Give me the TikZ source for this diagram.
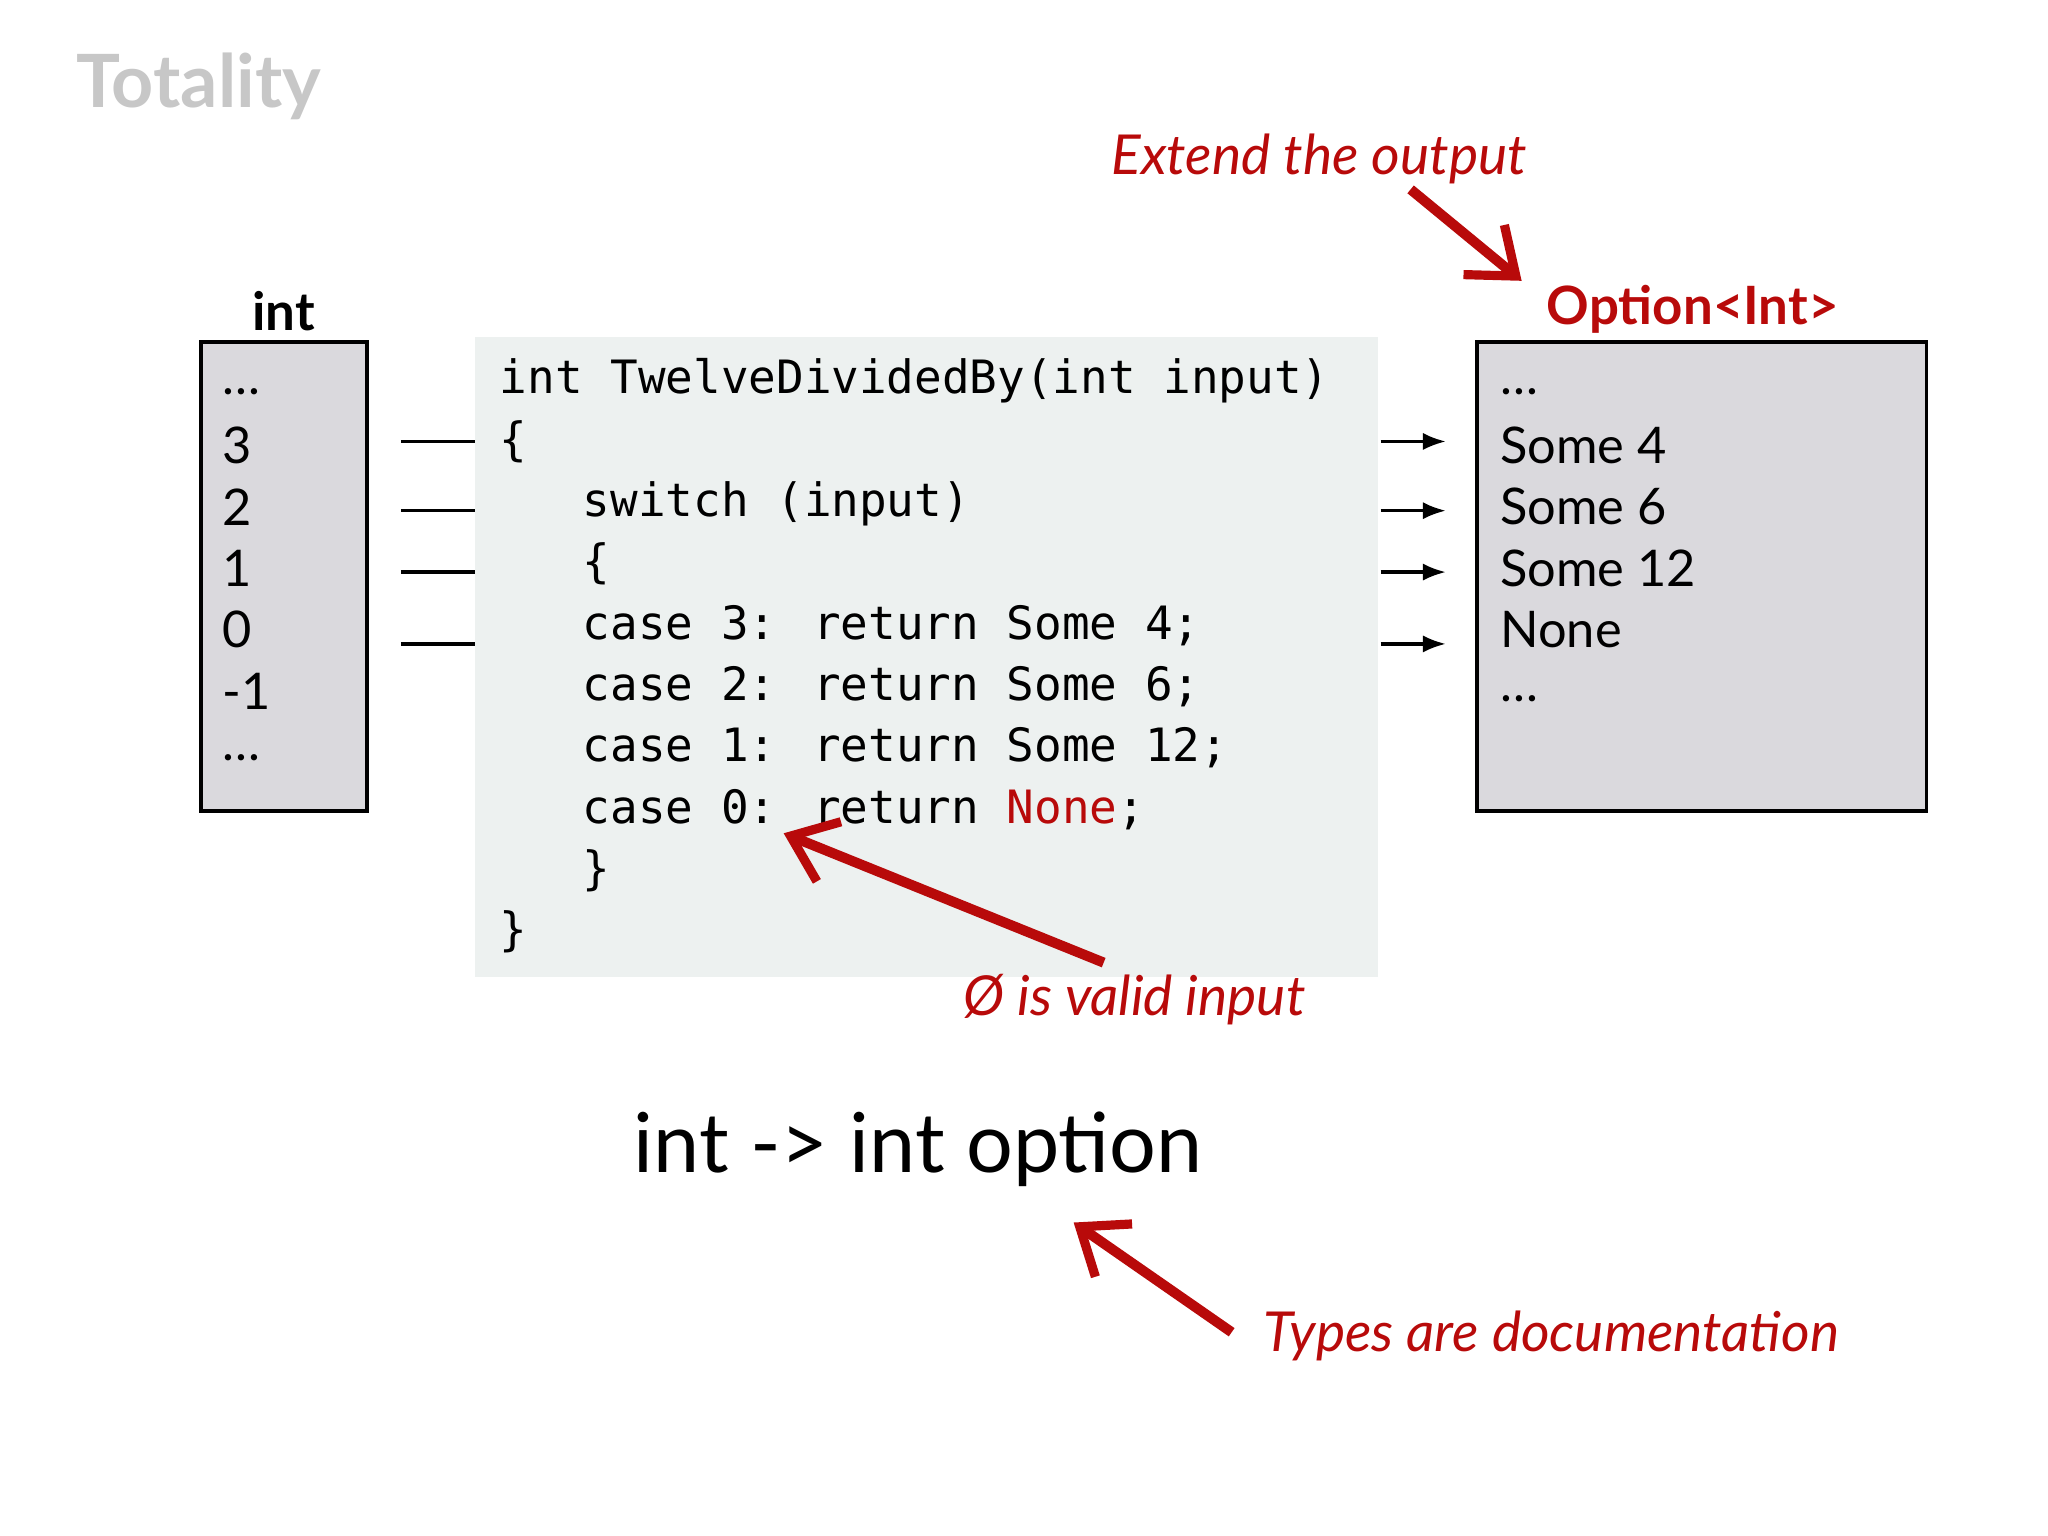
\documentclass[tikz,border=0pt]{standalone}
\usepackage{fontspec}
\setmainfont{Lato}
\newfontfamily\codefont{DejaVu Sans Mono}
\usetikzlibrary{arrows.meta}
\definecolor{hand}{HTML}{B80A0A}
\definecolor{boxgray}{HTML}{DAD9DD}
\definecolor{codebg}{HTML}{EDF1F0}
\tikzset{
  valbox/.style={draw=black, fill=boxgray, line width=0.8pt},
  item/.style={anchor=west, font=\fontsize{11}{13}\selectfont, inner sep=0pt},
  note/.style={text=hand, font=\itshape\fontsize{12}{14}\selectfont, inner sep=0pt},
  notearrow/.style={draw=hand, line width=2.2pt, -{Straight Barb[length=9pt,width=14pt,line width=2pt]}},
  maparrow/.style={line width=0.7pt, -{Latex[length=5pt]}},
  mapline/.style={line width=0.7pt}
}
\begin{document}
\begin{tikzpicture}[x=0.01cm,y=-0.01cm]
\useasboundingbox (0,0) rectangle (1568,1176);
\node[anchor=west, text=black!22, font=\bfseries\fontsize{16}{18}\selectfont, inner sep=0pt] (title) at (58,66) {Totality};
% left box
\draw[valbox] (154,262) rectangle (281,621);
\node[font=\bfseries\fontsize{11.5}{13}\selectfont] (intlbl) at (217,238) {int};
\foreach \t/\y [count=\i] in {\dots/300,3/341,2/388,1/435,0/482,-1/529,\dots/580}
  \node[item] (l\i) at (170,\y) {\t};
% code box
\fill[codebg] (364,258) rectangle (1055,748);
\node[anchor=north west, align=left, inner sep=0pt, font=\codefont\fontsize{10}{13.35}\selectfont] (code) at (382,274) {%
int TwelveDividedBy(int input)\\
\{\\
\ \ \ switch (input)\\
\ \ \ \{\\
\ \ \ case 3: return Some 4;\\
\ \ \ case 2: return Some 6;\\
\ \ \ case 1: return Some 12;\\
\ \ \ case 0: return \textcolor{hand}{None};\\
\ \ \ \}\\
\}};
% right box
\draw[valbox] (1131,262) rectangle (1475,621);
\node[text=hand, font=\bfseries\fontsize{11.5}{13}\selectfont] (optlbl) at (1296,237) {Option<Int>};
\foreach \t/\y [count=\i] in {\dots/300,Some 4/341,Some 6/388,Some 12/435,None/482,\dots/535}
  \node[item] (r\i) at (1148,\y) {\t};
% mapping lines
\foreach \y [count=\i] in {338,391,438,493}{
  \coordinate (la\i) at (307,\y); \coordinate (lb\i) at (364,\y);
  \draw[mapline] (la\i) -- (lb\i);
  \coordinate (ra\i) at (1057,\y); \coordinate (rb\i) at (1107,\y);
  \draw[maparrow] (ra\i) -- (rb\i);
}
% notes
\node[note] (n1) at (1010,122) {Extend the output};
\coordinate (n1t) at (1165,215);
\draw[notearrow] (1080,145) -- (n1t);
\node[note, anchor=west] (n2) at (737,765) {\O{} is valid input};
\coordinate (n2t) at (600,638);
\draw[notearrow] (845,737) -- (n2t);
\node[font=\fontsize{18}{22}\selectfont, inner sep=0pt] (sig) at (703,880) {int -> int option};
\node[note, anchor=west] (n3) at (967,1023) {Types are documentation};
\coordinate (n3t) at (822,936);
\draw[notearrow] (943,1020) -- (n3t);
\end{tikzpicture}
\end{document}
